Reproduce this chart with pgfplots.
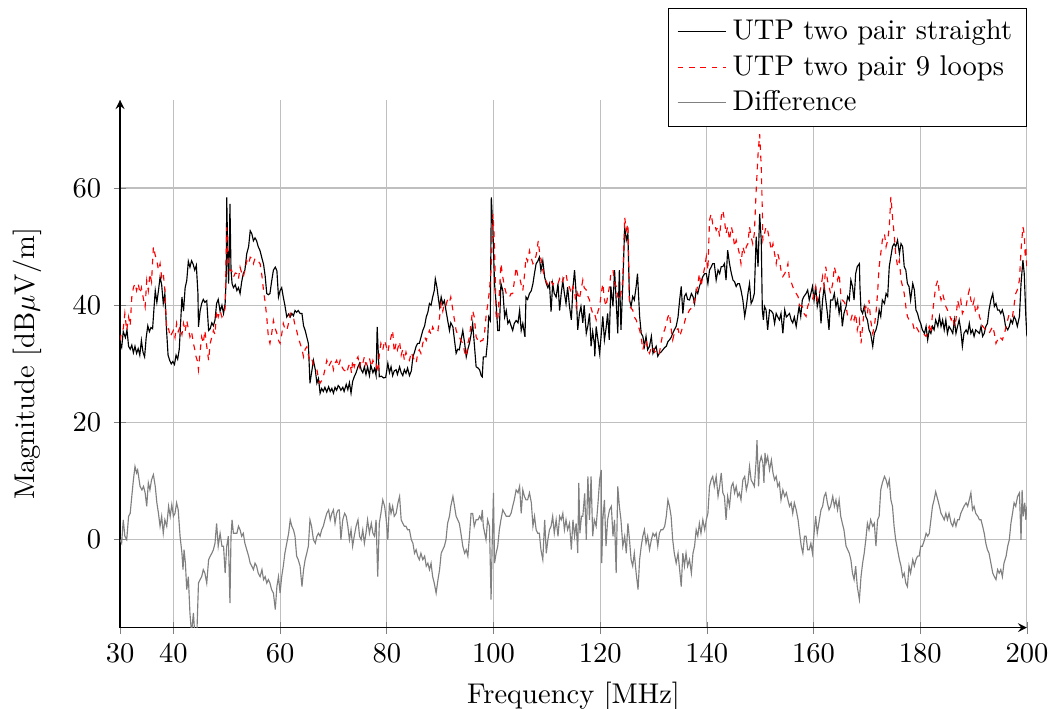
\documentclass[border=0pt]{standalone}
\usepackage{pgfplots}
\pgfplotsset{compat=1.18}
\begin{document}
\begin{tikzpicture}
\begin{axis}[
  scale only axis,
  width=318pt, height=185pt,
  xmin=30, xmax=200, ymin=-15, ymax=75,
  axis lines=left,
  tick align=center,
  grid=major,
  xtick={30,40,60,80,100,120,140,160,180,200},
  ytick={0,20,40,60},
  xlabel={Frequency [MHz]},
  ylabel={Magnitude [dB$\mu$V/m]},
  ylabel style={yshift=4pt},
  yticklabel style={xshift=-1pt},
  legend style={at={(1.0,1.175)}, anchor=north east},
  legend cell align=left,
]
\addplot[black] coordinates {
(30.0,33.5) (30.3,32.8) (30.6,35.5) (31.0,34.5) (31.3,35.8) (31.6,33.0) (31.9,32.5) (32.2,33.2) (32.5,31.9) (32.8,33.0)
(33.1,31.8) (33.4,32.6) (33.7,31.5) (34.0,34.0) (34.3,32.0) (34.6,31.2) (34.9,34.5) (35.2,36.5) (35.5,35.5) (35.8,36.2)
(36.1,36.0) (36.4,40.0) (36.6,42.5) (36.9,40.5) (37.2,42.5) (37.5,44.8) (37.8,43.5) (38.1,40.3) (38.4,42.0) (38.7,36.0)
(39.0,31.5) (39.3,30.6) (39.6,30.0) (39.9,30.4) (40.2,29.9) (40.5,31.5) (40.8,30.8) (41.1,32.5) (41.3,36.0) (41.6,41.4)
(41.9,39.0) (42.2,43.0) (42.5,44.2) (42.8,47.5) (43.1,46.5) (43.4,47.6) (43.7,47.0) (44.0,46.0) (44.3,46.8) (44.6,42.0)
(44.7,36.3) (45.0,39.0) (45.3,40.3) (45.6,41.0) (45.9,40.5) (46.25,40.8) (46.6,35.7) (46.9,36.0) (47.2,37.0) (47.5,36.5)
(47.8,37.5) (48.1,40.3) (48.4,41.0) (48.75,39.0) (49.1,40.0) (49.4,38.6) (49.7,40.3) (49.9,45.0) (50.0,58.4) (50.2,48.0)
(50.35,43.7) (50.5,50.0) (50.6,57.3) (50.8,46.0) (51.0,43.7) (51.25,43.0) (51.6,43.5) (51.9,42.5) (52.2,43.0) (52.5,42.0)
(52.8,44.0) (53.1,45.4) (53.4,46.0) (53.75,48.8) (54.1,50.0) (54.4,52.7) (54.7,52.2) (55.0,51.0) (55.3,51.5) (55.6,51.0)
(55.9,50.0) (56.25,49.3) (56.6,48.0) (56.9,47.0) (57.2,45.0) (57.5,42.0) (57.8,41.8) (58.1,42.0) (58.4,44.0) (58.75,46.0)
(59.1,46.5) (59.4,45.9) (59.7,41.4) (60.0,42.5) (60.3,43.0) (60.6,41.4) (60.9,40.0) (61.25,38.0) (61.6,38.5) (61.9,38.0)
(62.2,38.6) (62.5,38.2) (62.8,39.1) (63.1,38.8) (63.4,39.1) (63.75,38.6) (64.1,38.6) (64.4,36.5) (64.7,35.7) (65.0,34.6)
(65.3,33.5) (65.6,26.7) (65.9,28.5) (66.25,30.6) (66.6,29.0) (66.9,26.7) (67.2,27.5) (67.5,25.0) (67.8,25.8) (68.1,25.3)
(68.4,26.0) (68.75,25.2) (69.1,26.1) (69.4,25.3) (69.7,25.8) (70.0,25.0) (70.3,26.0) (70.6,25.5) (70.9,26.3)
(71.1,26.1) (71.4,25.5) (71.75,26.0) (72.0,25.3) (72.4,26.5) (72.7,25.6) (73.0,26.8) (73.3,25.0) (73.6,27.0) (73.9,27.8)
(74.25,28.5) (74.6,29.5) (74.9,30.1) (75.2,29.0) (75.5,28.5) (75.8,29.5) (76.1,28.2) (76.4,29.5) (76.75,28.0) (77.0,29.8)
(77.4,28.5) (77.7,29.2) (78.0,28.0) (78.2,36.3) (78.6,27.8) (79.0,27.9) (79.4,27.6) (79.8,27.7) (80.2,30.1) (80.5,28.5)
(80.8,29.5) (81.1,28.0) (81.4,28.8) (81.75,29.0) (82.0,28.2) (82.4,29.5) (82.7,28.5) (83.0,28.0) (83.3,29.0) (83.6,28.4)
(83.9,29.3) (84.25,28.0) (84.6,28.8) (84.9,31.2) (85.2,32.0) (85.5,33.0) (85.8,33.5) (86.1,33.5) (86.4,34.5) (86.75,35.7)
(87.1,36.5) (87.4,38.0) (87.7,38.8) (88.0,40.3) (88.3,40.0) (88.6,41.4) (88.9,42.5) (89.1,44.5) (89.4,43.1) (89.7,41.0)
(89.9,39.7) (90.2,41.4) (90.5,40.2) (90.8,40.8) (91.1,39.1) (91.4,37.5) (91.75,35.7) (92.0,37.0) (92.4,36.3) (92.7,34.0)
(93.0,31.8) (93.3,32.5) (93.6,32.4) (93.9,34.0) (94.25,35.7) (94.6,33.5) (94.9,31.2) (95.2,32.5) (95.5,33.5) (95.8,35.0)
(96.1,36.9) (96.4,33.5) (96.75,29.5) (97.1,29.3) (97.4,29.0) (97.7,28.0) (97.9,27.8) (98.1,31.2) (98.6,31.2) (98.9,34.0)
(99.1,38.0) (99.4,37.4) (99.6,58.4) (99.9,52.7) (100.2,43.7) (100.5,40.3) (100.8,35.7) (101.1,35.7) (101.4,43.7) (101.75,42.5)
(102.1,38.0) (102.4,39.1) (102.7,36.9) (103.0,37.4) (103.3,36.5) (103.6,35.7) (103.9,36.9) (104.25,37.4) (104.6,37.0) (104.9,39.1)
(105.2,35.7) (105.5,36.9) (105.9,34.6) (106.1,41.4) (106.4,41.0) (106.75,42.0) (107.1,42.5) (107.4,43.7) (107.7,45.5) (108.0,47.1)
(108.3,47.5) (108.6,48.2) (108.9,45.9) (109.25,47.6) (109.6,44.8) (109.9,43.7) (110.2,43.0) (110.5,43.7) (110.8,38.9) (111.1,43.7)
(111.4,42.0) (111.75,41.4) (112.1,43.7) (112.4,39.1) (112.7,42.0) (113.0,44.2) (113.3,42.0) (113.6,40.3) (113.9,43.1) (114.25,39.8)
(114.6,37.5) (114.9,43.0) (115.2,46.0) (115.5,42.0) (115.8,35.8) (116.1,38.5) (116.4,39.8) (116.75,37.0) (117.0,40.0) (117.4,35.2)
(117.7,36.5) (118.0,38.6) (118.3,33.0) (118.6,35.5) (118.9,33.5) (119.0,31.3) (119.25,36.4) (119.6,34.0) (119.9,31.8) (120.2,35.0)
(120.5,38.1) (120.8,34.1) (121.1,36.0) (121.4,38.6) (121.7,34.1) (122.0,43.2) (122.4,39.8) (122.7,46.0) (123.0,40.9) (123.3,35.2)
(123.6,46.0) (123.9,35.8) (124.25,43.7) (124.6,53.4) (124.9,51.1) (125.2,52.2) (125.5,40.9) (125.8,39.8) (126.1,41.5) (126.4,40.9)
(126.75,43.2) (127.0,45.4) (127.4,38.1) (127.7,35.2) (128.0,34.7) (128.3,33.0) (128.6,34.7) (128.9,32.4) (129.25,33.0) (129.6,34.7)
(129.9,31.8) (130.2,32.5) (130.5,33.0) (130.8,31.3) (131.1,31.8) (131.4,32.0) (131.75,32.4) (132.1,32.8) (132.4,33.0) (132.7,33.8)
(133.0,34.1) (133.3,34.5) (133.6,35.2) (133.9,35.8) (134.25,36.4) (134.6,38.0) (134.9,40.9) (135.2,43.2) (135.5,38.6) (135.8,41.5)
(136.1,42.0) (136.4,41.0) (136.75,40.9) (137.1,42.0) (137.4,41.5) (137.7,40.3) (138.0,42.6) (138.3,42.0) (138.6,43.2) (138.9,44.0)
(139.25,44.9) (139.6,45.4) (139.9,45.4) (140.2,43.7) (140.5,46.0) (140.8,46.5) (141.1,47.1) (141.4,47.1) (141.75,44.3) (142.1,46.0)
(142.4,45.4) (142.7,46.6) (143.0,46.6) (143.3,47.1) (143.6,44.3) (143.9,49.4) (144.25,47.1) (144.6,45.4) (144.9,44.3) (145.2,44.0)
(145.5,43.2) (145.8,43.7) (146.1,43.7) (146.4,42.6) (146.75,40.9) (147.1,38.1) (147.4,39.8) (147.7,42.0) (148.0,43.7) (148.3,40.3)
(148.6,40.9) (148.9,42.0) (149.25,51.7) (149.6,46.6) (149.9,55.6) (150.2,51.1) (150.4,39.2) (150.6,37.5) (150.8,39.8) (151.1,39.2)
(151.4,35.8) (151.75,39.2) (152.1,39.0) (152.4,38.6) (152.7,36.9) (153.0,38.6) (153.3,38.0) (153.6,37.5) (153.9,38.6) (154.25,35.2)
(154.6,39.2) (154.9,38.0) (155.5,38.6) (155.8,37.5) (156.1,37.0) (156.4,38.0) (156.75,36.4) (157.1,38.6) (157.3,39.8) (157.6,38.1)
(157.9,40.9) (158.2,41.5) (158.6,42.0) (158.9,42.6) (159.2,40.9) (159.5,42.0) (159.8,43.2) (160.1,40.9) (160.4,43.2) (160.7,39.8)
(161.1,41.5) (161.4,36.9) (161.7,40.9) (162.0,43.2) (162.3,40.9) (162.6,38.6) (162.9,35.8) (163.2,40.9) (163.6,40.9) (163.9,42.0)
(164.2,39.8) (164.5,40.9) (164.8,38.6) (165.1,40.3) (165.4,36.4) (165.7,38.6) (166.1,39.8) (166.4,41.5) (166.7,40.9) (167.0,44.3)
(167.3,43.2) (167.6,40.9) (167.9,45.4) (168.2,46.6) (168.6,47.1) (168.7,43.2) (168.9,39.2) (169.2,38.6) (169.5,39.8) (169.8,38.1)
(170.1,37.5) (170.4,35.8) (170.7,35.2) (171.1,33.0) (171.4,35.2) (171.7,35.8) (172.0,36.9) (172.3,39.2) (172.6,38.1) (172.9,40.9)
(173.3,40.3) (173.6,42.0) (173.9,41.5) (174.2,46.6) (174.5,48.3) (174.8,50.0) (175.1,50.5) (175.4,50.0) (175.75,51.1) (176.1,48.8)
(176.4,50.5) (176.7,50.0) (177.0,46.6) (177.3,46.0) (177.6,43.7) (177.9,43.2) (178.2,40.9) (178.6,43.7) (178.9,42.6) (179.2,39.2)
(179.5,38.6) (179.8,37.5) (180.1,36.9) (180.4,35.8) (180.8,35.2) (181.1,36.4) (181.4,34.1) (181.7,35.8) (182.0,35.2) (182.3,36.4)
(182.6,35.8) (182.9,37.5) (183.3,36.4) (183.6,38.1) (183.9,36.4) (184.2,37.5) (184.5,35.8) (184.8,37.5) (185.1,35.2) (185.4,36.4)
(185.8,35.8) (186.1,35.2) (186.4,37.5) (186.7,35.2) (187.0,36.4) (187.3,37.5) (187.6,35.8) (187.9,33.0) (188.2,35.2) (188.6,35.8)
(188.9,35.2) (189.2,36.9) (189.5,35.2) (189.8,35.8) (190.1,34.7) (190.4,35.8) (191.1,35.2) (191.4,36.4) (191.7,34.7) (192.0,35.2)
(192.3,36.4) (192.6,36.9) (192.9,39.2) (193.25,40.9) (193.6,42.0) (193.9,39.8) (194.2,40.3) (194.5,39.2) (194.8,39.2) (195.1,38.6)
(195.4,39.2) (195.7,38.1) (196.0,36.4) (196.4,35.8) (196.7,36.4) (197.0,37.5) (197.3,36.9) (197.6,38.1) (197.9,37.5) (198.2,36.4)
(198.6,38.1) (198.9,43.7) (199.25,47.7) (199.5,45.4) (199.8,38.1) (200.0,34.7)
};
\addlegendentry{UTP two pair straight}
\addplot[red, dash pattern=on 2pt off 2pt] coordinates {
(30.0,34.0) (30.3,35.5) (30.6,36.0) (30.9,38.6) (31.25,35.7) (31.6,38.0) (31.9,36.5) (32.2,41.4) (32.5,43.0) (32.8,43.7)
(33.1,42.5) (33.4,43.7) (33.75,42.0) (34.0,43.0) (34.4,41.0) (34.7,39.7) (35.0,44.2) (35.3,42.5) (35.6,45.4) (35.9,44.0)
(36.25,50.0) (36.6,48.5) (36.9,47.6) (37.2,46.0) (37.5,47.1) (37.8,44.8) (38.1,45.5) (38.4,42.5) (38.75,35.7) (39.1,36.0)
(39.4,34.6) (39.7,35.2) (40.0,35.7) (40.3,34.5) (40.6,36.9) (40.9,35.5) (41.25,36.3) (41.6,35.0) (41.9,36.9) (42.2,35.5)
(42.5,37.4) (42.8,36.0) (43.1,34.6) (43.4,35.5) (43.75,33.5) (44.0,32.5) (44.25,31.2) (44.5,30.5) (44.7,29.0) (45.0,32.0)
(45.3,34.6) (45.6,33.5) (45.9,35.7) (46.25,33.0) (46.6,30.6) (46.9,33.5) (47.2,34.6) (47.5,35.7) (47.8,35.0) (48.1,39.1)
(48.4,38.0) (48.75,39.1) (49.1,38.0) (49.4,38.6) (49.7,39.5) (50.0,53.3) (50.3,47.1) (50.6,45.9) (50.9,46.0) (51.25,44.8)
(51.6,45.5) (51.9,45.4) (52.2,44.5) (52.5,46.5) (52.8,45.5) (53.1,44.8) (53.4,46.0) (53.75,47.6) (54.1,47.0) (54.4,48.2)
(54.7,48.0) (55.0,47.1) (55.3,48.0) (55.6,47.6) (55.9,47.5) (56.25,47.1) (56.6,45.0) (56.9,42.5) (57.2,40.5) (57.5,38.0)
(57.8,34.6) (58.1,33.5) (58.4,35.0) (58.75,37.4) (59.1,36.0) (59.4,35.2) (59.7,34.0) (60.0,33.5) (60.3,35.0) (60.6,36.9)
(60.9,36.0) (61.25,35.7) (61.6,37.0) (61.9,38.6) (62.2,38.0) (62.5,38.0) (62.8,36.5) (63.1,35.7) (63.4,34.5) (63.75,33.5)
(64.1,32.5) (64.4,31.2) (64.7,32.5) (65.0,32.9) (65.3,31.5) (65.6,30.6) (65.9,31.0) (66.25,29.8) (66.6,29.5) (66.9,29.0)
(67.2,27.5) (67.5,26.7) (67.8,27.2) (68.1,27.8) (68.4,29.0) (68.75,30.6) (69.1,29.5) (69.4,30.1) (69.7,30.6) (70.0,29.0)
(70.3,30.1) (70.6,30.6) (70.9,29.5) (71.25,30.6) (71.6,29.5) (71.9,29.0) (72.2,28.8) (72.5,28.4) (72.8,29.5) (73.1,30.1)
(73.4,28.4) (73.6,30.6) (73.9,29.5) (74.25,30.6) (74.6,31.2) (74.9,29.5) (75.2,30.6) (75.5,30.1) (75.8,31.2) (76.1,29.8)
(76.4,30.6) (76.75,31.0) (77.1,29.5) (77.4,30.6) (77.7,29.8) (78.0,30.1) (78.3,28.5) (78.6,31.5) (78.9,33.5) (79.25,32.4)
(79.6,34.0) (79.9,33.0) (80.2,32.0) (80.5,33.5) (80.8,34.6) (81.1,35.7) (81.4,32.0) (81.75,33.5) (82.0,32.4) (82.4,33.8)
(82.7,31.5) (83.0,32.5) (83.3,30.6) (83.6,32.0) (83.9,31.0) (84.25,30.6) (84.6,32.0) (84.9,31.2) (85.2,30.6) (85.5,30.1)
(85.8,31.8) (86.1,32.4) (86.4,31.8) (86.75,33.5) (87.1,34.6) (87.4,34.0) (87.7,35.0) (88.0,35.7) (88.3,35.0) (88.6,36.3)
(88.9,35.7) (89.25,36.0) (89.6,35.7) (89.9,38.0) (90.2,40.3) (90.5,39.0) (90.8,40.3) (91.1,40.0) (91.4,41.0) (91.75,40.5)
(92.0,41.4) (92.3,39.7) (92.6,38.0) (93.0,35.7) (93.3,35.0) (93.6,34.6) (93.9,34.0) (94.25,33.5) (94.6,32.0) (94.9,31.2)
(95.2,33.5) (95.5,34.6) (95.8,37.0) (96.1,39.1) (96.4,38.0) (96.75,34.6) (97.1,34.0) (97.4,33.5) (97.7,34.0) (98.0,34.0)
(98.3,35.0) (98.6,38.0) (98.9,40.0) (99.25,42.5) (99.6,47.0) (99.9,55.6) (100.1,52.7) (100.3,46.0) (100.5,38.0) (100.8,37.4)
(101.1,42.0) (101.4,47.1) (101.75,44.8) (102.1,43.0) (102.4,42.0) (102.7,41.5) (103.0,41.4) (103.3,42.0) (103.6,42.0) (103.9,44.0)
(104.25,46.5) (104.6,44.8) (104.9,44.8) (105.2,43.5) (105.5,42.5) (105.8,45.0) (106.1,48.2) (106.4,47.5) (106.75,49.3) (107.1,48.0)
(107.4,47.1) (107.7,47.6) (108.0,48.5) (108.4,51.0) (108.7,48.5) (109.0,47.6) (109.25,46.0) (109.6,44.8) (109.9,44.0) (110.2,43.5)
(110.5,43.7) (110.8,44.2) (111.1,43.5) (111.4,44.0) (111.75,43.7) (112.1,43.7) (112.4,44.5) (112.7,43.7) (113.0,44.2) (113.3,45.0)
(113.6,45.4) (113.9,43.7) (114.25,43.1) (114.6,42.0) (114.9,43.2) (115.2,42.5) (115.5,39.8) (115.8,42.0) (116.1,41.0) (116.75,44.3)
(117.0,43.0) (117.4,42.6) (117.7,41.5) (118.0,40.9) (118.3,39.5) (118.6,38.6) (118.9,38.8) (119.25,37.5) (119.6,39.0) (119.9,39.8)
(120.2,42.0) (120.5,43.7) (120.8,41.0) (121.1,39.8) (121.4,41.5) (121.75,43.2) (122.0,45.4) (122.4,46.0) (122.7,44.0) (123.0,43.2)
(123.3,41.5) (123.6,40.9) (123.9,42.0) (124.25,44.3) (124.6,55.0) (124.9,52.8) (125.2,53.9) (125.5,39.8) (125.8,39.5) (126.1,39.2)
(126.4,38.0) (126.75,37.5) (127.1,36.5) (127.4,35.8) (127.7,34.5) (128.0,32.4) (128.3,33.5) (128.6,34.1) (128.9,32.5) (129.25,31.8)
(129.6,32.8) (129.9,33.0) (130.2,32.0) (130.5,32.4) (130.8,32.0) (131.1,31.8) (131.4,33.5) (131.75,35.2) (132.1,35.8) (132.4,37.0)
(132.7,38.0) (133.0,38.6) (133.3,36.0) (133.6,34.1) (133.9,35.2) (134.25,35.8) (134.6,36.0) (134.9,34.7) (135.2,35.5) (135.5,36.4)
(135.8,37.0) (136.1,38.1) (136.4,38.5) (136.75,39.2) (137.1,39.5) (137.4,39.8) (137.7,41.0) (138.0,42.0) (138.3,43.5) (138.6,45.4)
(138.9,43.2) (139.25,44.9) (139.6,46.5) (139.9,48.3) (140.2,46.0) (140.5,54.5) (140.8,55.6) (141.1,53.9) (141.4,54.0) (141.75,52.8)
(142.1,53.4) (142.4,51.7) (142.7,55.1) (143.0,56.2) (143.3,54.5) (143.6,52.2) (143.9,53.4) (144.25,51.1) (144.6,53.4) (144.9,52.2)
(145.2,50.0) (145.5,51.1) (145.8,50.0) (146.1,48.8) (146.4,47.1) (146.75,50.0) (147.1,48.8) (147.4,50.0) (147.7,50.5) (148.0,53.4)
(148.3,51.7) (148.6,50.5) (148.9,52.2) (149.25,59.6) (149.6,65.8) (149.9,69.2) (150.2,63.6) (150.4,56.2) (150.5,51.1) (150.8,52.2)
(151.1,53.4) (151.4,52.8) (151.75,51.1) (152.1,49.4) (152.4,50.5) (152.7,48.8) (153.0,47.1) (153.3,48.8) (153.6,47.7) (153.9,46.0)
(154.25,44.9) (154.6,45.4) (154.9,46.0) (155.2,47.1) (155.5,44.3) (155.8,44.0) (156.1,43.2) (156.4,42.5) (156.75,42.0) (157.1,41.5)
(157.4,40.0) (157.9,39.8) (158.2,38.6) (158.6,38.1) (158.9,39.8) (159.2,40.5) (159.8,40.9) (160.1,42.0) (160.4,43.2) (160.7,40.9)
(161.1,42.0) (161.4,43.2) (161.7,44.9) (162.0,43.2) (162.3,46.6) (162.6,44.3) (162.9,43.2) (163.2,42.0) (163.6,43.7) (163.9,46.6)
(164.2,45.4) (164.5,44.3) (164.8,45.4) (165.1,42.0) (165.4,40.9) (165.8,40.5) (166.1,39.8) (166.4,38.1) (166.7,38.0) (167.0,37.5)
(167.3,38.5) (167.6,37.5) (167.9,38.6) (168.2,35.8) (168.6,37.5) (168.9,33.5) (169.2,36.4) (169.5,39.2) (169.8,39.8) (170.1,38.6)
(170.4,40.9) (170.7,37.5) (171.1,35.2) (171.4,36.4) (171.7,38.6) (172.0,42.0) (172.3,46.6) (172.6,48.8) (172.9,51.1) (173.3,52.2)
(173.6,50.0) (173.9,51.1) (174.2,53.4) (174.5,58.5) (174.8,55.1) (175.1,52.2) (175.4,48.8) (175.75,46.6) (176.1,47.7) (176.4,44.3)
(176.7,43.2) (177.0,42.0) (177.3,39.8) (177.6,38.1) (177.9,37.5) (178.6,36.9) (178.9,35.8) (179.2,36.4) (179.9,35.2) (180.5,35.2)
(181.1,34.7) (181.4,35.8) (181.7,36.4) (182.0,35.2) (182.3,38.6) (182.6,40.9) (182.9,43.2) (183.3,44.3) (183.6,42.0) (183.9,40.9)
(184.2,42.0) (184.5,40.9) (184.8,39.8) (185.1,39.2) (185.4,38.6) (185.8,37.5) (186.1,38.1) (186.4,36.4) (186.7,37.5) (187.0,40.9)
(187.3,39.8) (187.6,40.9) (187.9,38.6) (188.2,39.2) (188.6,39.8) (188.9,41.5) (189.2,42.6) (189.5,40.9) (189.8,39.8) (190.1,40.9)
(190.4,38.6) (190.8,39.8) (191.1,38.1) (191.7,36.4) (192.3,35.8) (192.9,35.2) (193.6,36.4) (193.9,35.2) (194.2,33.5) (194.8,34.7)
(195.4,34.1) (195.8,35.2) (196.1,36.4) (196.7,38.6) (197.3,38.1) (197.9,42.0) (198.2,42.6) (198.6,44.3) (198.9,49.4) (199.25,53.4)
(199.5,52.2) (199.7,48.0) (199.8,50.0) (200.0,46.0)
};
\addlegendentry{UTP two pair 9 loops}
\addplot[gray] coordinates {
(30.0,0.0) (30.3,-0.6) (30.6,3.4) (30.9,0.6) (31.25,0.0) (31.6,4.0) (31.9,4.5) (32.2,7.4) (32.5,10.2) (32.8,12.5)
(33.1,11.4) (33.3,11.9) (33.75,9.1) (34.1,8.5) (34.4,9.1) (34.7,8.0) (35.0,5.7) (35.3,9.7) (35.6,8.5) (35.9,10.2)
(36.25,11.1) (36.6,9.1) (36.9,6.3) (37.2,4.5) (37.5,2.3) (37.8,4.0) (38.1,1.1) (38.4,3.4) (38.75,2.3) (39.1,5.7)
(39.4,4.0) (39.7,6.0) (40.0,4.0) (40.3,4.5) (40.6,6.3) (40.9,5.1) (41.25,0.6) (41.6,-2.3) (41.8,-5.1) (42.0,-1.7)
(42.25,-4.0) (42.5,-8.5) (42.8,-6.3) (43.1,-12.5) (43.4,-16.0) (43.75,-12.5) (44.0,-16.0) (44.4,-16.0) (44.7,-7.4) (45.0,-6.8)
(45.3,-6.3) (45.6,-5.1) (45.9,-5.7) (46.25,-7.4) (46.6,-3.4) (46.9,-2.8) (47.2,-2.3) (47.5,-1.7) (47.8,-0.6) (48.1,2.8)
(48.4,-1.1) (48.75,1.1) (49.1,-1.1) (49.4,-1.1) (49.7,-5.7) (50.0,-1.1) (50.3,0.6) (50.6,-10.8) (50.8,0.6) (51.0,3.4)
(51.25,1.1) (51.6,1.1) (51.9,1.1) (52.2,2.3) (52.5,1.7) (52.8,0.6) (53.1,1.1) (53.4,-0.6) (53.75,-1.7) (54.1,-2.8)
(54.4,-4.0) (54.7,-4.5) (55.0,-5.1) (55.3,-4.0) (55.6,-4.5) (55.9,-5.7) (56.25,-6.3) (56.6,-5.1) (56.9,-6.8) (57.2,-6.3)
(57.5,-7.4) (57.8,-6.8) (58.1,-7.4) (58.4,-8.5) (58.75,-9.1) (59.1,-11.9) (59.4,-8.0) (59.7,-6.3) (60.0,-9.1) (60.3,-6.3)
(60.6,-4.5) (60.9,-2.3) (61.25,-0.6) (61.6,1.1) (61.9,3.4) (62.2,2.3) (62.5,1.7) (62.8,0.6) (63.1,-2.8) (63.4,-3.4)
(63.75,-4.5) (64.1,-8.0) (64.4,-5.1) (64.7,-3.4) (65.0,-2.3) (65.3,-1.1) (65.6,3.4) (65.9,2.3) (66.25,0.0) (66.6,-0.6)
(66.9,0.6) (67.2,1.1) (67.5,0.6) (67.8,1.7) (68.1,2.3) (68.4,3.4) (68.75,4.5) (69.1,5.1) (69.4,3.4) (69.7,4.5)
(70.0,5.1) (70.3,2.8) (70.6,4.5) (70.9,5.1) (71.1,5.1) (71.4,0.0) (71.75,3.4) (72.1,4.5) (72.4,4.0) (72.7,2.3)
(73.0,0.0) (73.3,1.7) (73.6,-1.1) (73.9,0.6) (74.25,2.3) (74.6,3.4) (74.9,0.6) (75.2,0.0) (75.5,1.7) (75.8,-0.6)
(76.1,1.1) (76.4,3.4) (76.75,1.1) (77.1,2.8) (77.4,1.1) (77.7,0.6) (78.0,3.4) (78.3,-6.3) (78.6,2.8) (78.9,4.5)
(79.25,6.8) (79.6,5.7) (79.9,3.4) (80.2,0.0) (80.5,6.3) (80.8,4.5) (81.1,5.7) (81.4,4.0) (81.75,4.5) (82.1,6.3)
(82.4,7.4) (82.7,3.4) (83.0,2.8) (83.3,2.3) (83.6,2.3) (83.9,1.7) (84.25,1.7) (84.6,0.0) (84.9,-0.6) (85.2,-2.3)
(85.5,-1.7) (85.8,-2.8) (86.1,-3.4) (86.4,-2.3) (86.75,-3.4) (87.1,-2.8) (87.4,-4.5) (87.7,-4.0) (88.0,-5.1) (88.3,-4.0)
(88.6,-6.3) (88.9,-7.4) (89.25,-9.1) (89.6,-6.8) (89.9,-5.1) (90.2,-2.3) (90.5,-1.7) (90.8,-1.1) (91.1,0.0) (91.4,2.8)
(91.75,4.0) (92.0,5.7) (92.4,7.4) (92.7,5.7) (93.0,4.0) (93.3,3.4) (93.6,2.8) (93.9,1.1) (94.25,-1.1) (94.6,-2.3)
(94.9,-1.7) (95.2,-2.8) (95.5,0.6) (95.8,4.5) (96.1,4.5) (96.4,2.3) (96.75,3.4) (97.1,3.4) (97.4,4.0) (97.7,3.4)
(97.9,5.1) (98.1,2.3) (98.6,0.0) (98.9,3.4) (99.25,2.3) (99.55,-10.2) (99.75,-1.1) (100.0,8.0) (100.2,-4.0) (100.5,-2.3)
(100.8,-1.1) (101.1,1.7) (101.4,3.4) (101.75,5.1) (102.1,4.5) (102.4,4.0) (102.7,4.0) (103.0,4.0) (103.3,4.5) (103.6,5.7)
(103.9,6.8) (104.25,8.5) (104.6,8.0) (104.9,9.1) (105.2,4.5) (105.5,8.5) (105.8,7.4) (106.1,6.8) (106.4,6.8) (106.75,8.0)
(107.1,6.3) (107.4,2.3) (107.7,4.0) (108.0,1.7) (108.3,1.1) (108.6,1.1) (108.9,-1.7) (109.25,-3.4) (109.6,3.4) (109.9,-2.3)
(110.2,0.0) (110.5,1.7) (110.8,2.3) (111.1,4.0) (111.4,1.1) (111.75,3.4) (112.1,0.6) (112.4,4.0) (112.7,3.4) (113.0,4.5)
(113.3,1.7) (113.6,3.4) (113.9,1.7) (114.25,2.8) (114.6,-1.7) (114.9,3.4) (115.2,0.6) (115.5,2.8) (115.8,-2.3) (116.0,9.7)
(116.2,1.1) (116.5,4.0) (116.75,4.0) (117.1,7.9) (117.4,0.0) (117.7,10.8) (118.0,3.4) (118.3,10.8) (118.6,0.6) (118.9,3.4)
(119.25,2.3) (119.6,6.3) (119.9,10.2) (120.2,11.9) (120.3,-4.0) (120.5,3.4) (120.8,6.8) (121.1,-1.1) (121.4,3.4) (121.75,5.1)
(122.1,5.7) (122.4,0.6) (122.7,3.4) (123.0,-5.7) (123.3,9.1) (123.6,5.7) (123.9,3.4) (124.25,-1.1) (124.6,0.6) (124.9,-2.3)
(125.2,2.8) (125.5,0.0) (125.8,-3.4) (126.1,-4.5) (126.4,-2.3) (126.75,-5.7) (127.1,-8.5) (127.4,-3.4) (127.7,-1.1) (128.0,0.6)
(128.3,1.7) (128.6,-0.6) (128.9,0.6) (129.25,-1.7) (129.6,0.0) (129.9,1.1) (130.2,0.6) (130.5,1.1) (130.8,-1.1) (131.1,1.1)
(131.4,1.7) (131.75,1.7) (132.1,2.3) (132.4,4.0) (132.7,6.8) (133.0,5.7) (133.3,4.0) (133.6,0.0) (133.9,-2.3) (134.25,-4.0)
(134.6,-2.3) (134.9,-5.1) (135.2,-8.0) (135.5,-2.3) (135.8,-4.5) (136.1,-2.3) (136.4,-4.5) (136.75,-3.4) (137.1,-5.7) (137.4,-2.3)
(137.7,-1.1) (138.0,1.7) (138.3,0.6) (138.6,2.8) (138.9,1.1) (139.25,3.4) (139.6,1.7) (139.9,3.4) (140.2,4.5) (140.5,9.1)
(140.8,10.2) (141.1,10.8) (141.4,9.1) (141.75,10.8) (142.1,7.4) (142.4,9.1) (142.7,11.4) (143.0,8.0) (143.3,7.4) (143.6,3.4)
(143.9,7.4) (144.25,5.7) (144.6,9.1) (144.9,9.7) (145.2,8.0) (145.5,9.1) (145.8,7.4) (146.1,8.0) (146.4,6.8) (146.75,10.2)
(147.1,10.8) (147.4,8.5) (147.7,9.7) (148.0,12.5) (148.3,10.2) (148.6,9.7) (148.9,9.1) (149.25,13.6) (149.4,17.0) (149.7,9.1)
(149.9,13.1) (150.2,14.2) (150.5,13.1) (150.7,9.7) (150.9,14.8) (151.1,13.1) (151.4,14.2) (151.75,11.9) (152.1,13.6) (152.4,11.4)
(152.7,10.2) (153.0,10.8) (153.3,9.1) (153.6,9.7) (153.9,6.8) (154.25,8.5) (154.6,7.4) (154.9,8.0) (155.2,6.8) (155.5,5.7)
(155.8,6.3) (156.1,4.5) (156.4,6.3) (156.75,5.1) (157.1,3.4) (157.4,1.1) (157.7,-1.1) (158.0,-2.3) (158.3,0.6) (158.6,0.6)
(158.9,-1.7) (159.2,-1.7) (159.5,-0.6) (159.8,-2.3) (160.1,1.1) (160.4,4.0) (160.7,1.1) (161.1,3.4) (161.4,5.1) (161.7,5.7)
(162.0,7.4) (162.3,8.0) (162.6,6.3) (162.9,5.1) (163.2,5.7) (163.6,7.4) (163.9,5.7) (164.2,6.8) (164.5,5.1) (164.8,6.8)
(165.1,4.0) (165.4,2.8) (165.7,1.7) (166.1,-1.1) (166.4,-1.7) (166.7,-2.3) (167.0,-3.4) (167.3,-5.7) (167.6,-6.8) (167.9,-4.5)
(168.2,-8.0) (168.6,-10.2) (168.9,-6.3) (169.2,-4.0) (169.5,-2.3) (169.8,0.0) (170.1,2.8) (170.4,1.7) (170.7,3.4) (171.1,2.3)
(171.4,2.8) (171.7,-1.1) (172.0,3.4) (172.3,4.0) (172.6,8.5) (172.9,9.7) (173.3,10.8) (173.6,10.2) (173.9,9.1) (174.2,10.2)
(174.5,6.8) (174.8,5.7) (175.1,2.3) (175.4,0.0) (175.75,-1.7) (176.1,-3.4) (176.4,-4.5) (176.7,-6.3) (177.0,-5.7) (177.3,-7.4)
(177.6,-8.0) (177.9,-4.5) (178.2,-5.7) (178.6,-3.4) (178.9,-4.5) (179.2,-3.4) (179.5,-2.8) (179.8,-2.8) (180.1,-1.1) (180.4,-1.1)
(180.8,0.0) (181.1,1.1) (181.4,0.6) (181.7,1.1) (182.0,3.4) (182.3,5.7) (182.6,6.8) (182.9,8.2) (183.3,6.8) (183.6,5.7)
(183.9,4.5) (184.2,4.0) (184.5,3.4) (184.8,4.5) (185.1,3.4) (185.4,4.5) (185.8,2.8) (186.1,2.3) (186.4,3.4) (186.7,2.3)
(187.0,3.4) (187.3,3.4) (187.6,4.5) (187.9,5.1) (188.2,5.7) (188.6,6.3) (188.9,5.7) (189.2,6.8) (189.5,8.0) (189.8,5.1)
(190.1,5.7) (190.4,4.5) (190.8,4.0) (191.1,3.4) (191.4,3.4) (191.7,2.3) (192.0,1.1) (192.3,-0.6) (192.6,-1.7) (192.9,-2.3)
(193.25,-4.0) (193.6,-5.7) (193.9,-6.3) (194.2,-6.8) (194.5,-5.1) (194.8,-5.7) (195.1,-5.1) (195.4,-6.3) (195.7,-4.0) (196.1,-2.8)
(196.4,-1.1) (196.7,0.0) (197.0,2.8) (197.3,4.5) (197.6,6.3) (197.9,5.7) (198.25,7.4) (198.6,8.0) (198.9,0.0) (199.1,8.5)
(199.3,4.0) (199.6,6.3) (199.8,3.4) (200.0,5.7)
};
\addlegendentry{Difference}
\end{axis}
\pgfresetboundingbox
\path ([xshift=-42.1pt,yshift=-28.4pt]current axis.south west) rectangle ([xshift=8.8pt,yshift=35.1pt]current axis.north east);
\end{tikzpicture}
\end{document}
